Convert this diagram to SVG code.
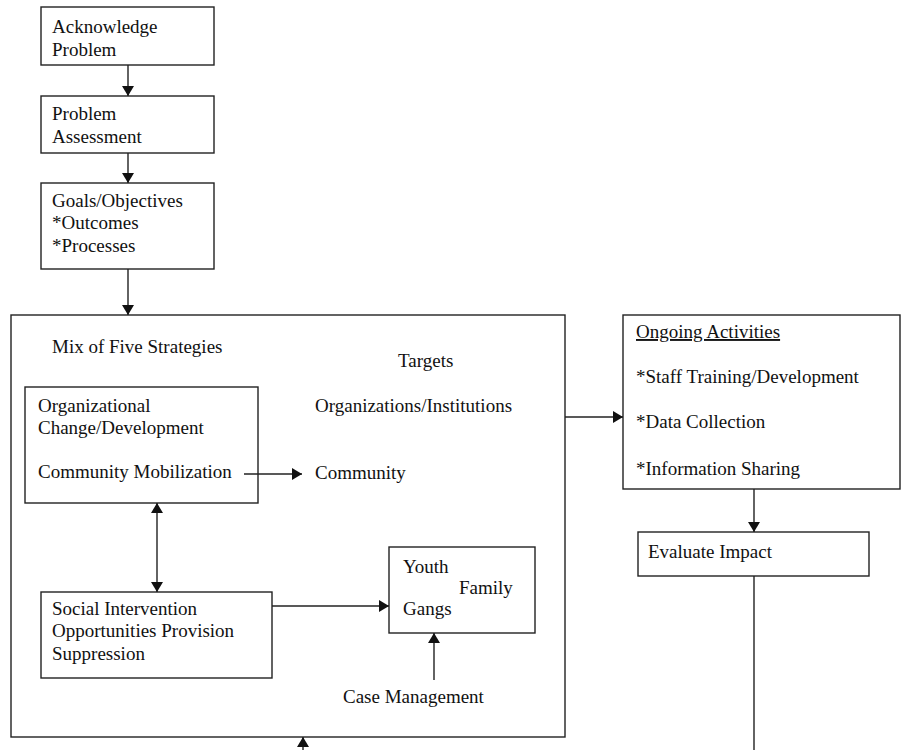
<svg xmlns="http://www.w3.org/2000/svg" width="903" height="750" viewBox="0 0 903 750">
<style>
  .box { fill: #fff; stroke: #222; stroke-width: 1.4; }
  .t { font-family: "Liberation Serif", "Times New Roman", serif; font-size: 19px; fill: #111; }
  .c { stroke: #222; stroke-width: 1.4; fill: none; }
</style>
<defs>
  <marker id="ah" markerUnits="userSpaceOnUse" markerWidth="12" markerHeight="12" viewBox="0 0 10 12" refX="10" refY="6" orient="auto-start-reverse">
    <path d="M0,0 L10,6 L0,12 Z" fill="#111"/>
  </marker>
</defs>
<rect width="903" height="750" fill="#fff"/>

<g id="outer">
  <rect class="box" x="11" y="315" width="554" height="422"/>
  <text class="t" x="52" y="353">Mix of Five Strategies</text>
  <text class="t" x="398" y="367">Targets</text>
  <text class="t" x="315" y="412">Organizations/Institutions</text>
  <text class="t" x="315" y="479">Community</text>
  <text class="t" x="343" y="703">Case Management</text>
</g>

<g id="acknowledge">
  <rect class="box" x="41" y="7" width="173" height="58"/>
  <text class="t" x="52" y="33">Acknowledge</text>
  <text class="t" x="52" y="56">Problem</text>
</g>

<g id="assessment">
  <rect class="box" x="41" y="96" width="173" height="57"/>
  <text class="t" x="52" y="120">Problem</text>
  <text class="t" x="52" y="143">Assessment</text>
</g>

<g id="goals">
  <rect class="box" x="41" y="183" width="173" height="86"/>
  <text class="t" x="52" y="207">Goals/Objectives</text>
  <text class="t" x="52" y="229">*Outcomes</text>
  <text class="t" x="52" y="252">*Processes</text>
</g>

<g id="organizational">
  <rect class="box" x="25" y="387" width="233" height="116"/>
  <text class="t" x="38" y="412">Organizational</text>
  <text class="t" x="38" y="434">Change/Development</text>
  <text class="t" x="38" y="478">Community Mobilization</text>
</g>

<g id="social">
  <rect class="box" x="41" y="592" width="231" height="86"/>
  <text class="t" x="52" y="615">Social Intervention</text>
  <text class="t" x="52" y="637">Opportunities Provision</text>
  <text class="t" x="52" y="660">Suppression</text>
</g>

<g id="youth">
  <rect class="box" x="389" y="547" width="146" height="86"/>
  <text class="t" x="403" y="573">Youth</text>
  <text class="t" x="459" y="594">Family</text>
  <text class="t" x="403" y="615">Gangs</text>
</g>

<g id="ongoing">
  <rect class="box" x="623" y="315" width="277" height="174"/>
  <text class="t" x="636" y="338" text-decoration="underline">Ongoing Activities</text>
  <text class="t" x="636" y="383">*Staff Training/Development</text>
  <text class="t" x="636" y="428">*Data Collection</text>
  <text class="t" x="636" y="475">*Information Sharing</text>
</g>

<g id="evaluate">
  <rect class="box" x="638" y="532" width="231" height="44"/>
  <text class="t" x="648" y="558">Evaluate Impact</text>
</g>

<g id="connectors">
  <line class="c" x1="128" y1="65" x2="128" y2="96" marker-end="url(#ah)"/>
  <line class="c" x1="128" y1="153" x2="128" y2="183" marker-end="url(#ah)"/>
  <line class="c" x1="128" y1="269" x2="128" y2="315" marker-end="url(#ah)"/>
  <line class="c" x1="244" y1="474" x2="302" y2="474" marker-end="url(#ah)"/>
  <line class="c" x1="565" y1="417" x2="623" y2="417" marker-end="url(#ah)"/>
  <line class="c" x1="157" y1="503" x2="157" y2="592" marker-start="url(#ah)" marker-end="url(#ah)"/>
  <line class="c" x1="272" y1="606" x2="389" y2="606" marker-end="url(#ah)"/>
  <line class="c" x1="434" y1="680" x2="434" y2="633" marker-end="url(#ah)"/>
  <line class="c" x1="754" y1="489" x2="754" y2="532" marker-end="url(#ah)"/>
  <line class="c" x1="754" y1="576" x2="754" y2="760"/>
  <line class="c" x1="303" y1="760" x2="303" y2="737" marker-end="url(#ah)"/>
</g>
</svg>
